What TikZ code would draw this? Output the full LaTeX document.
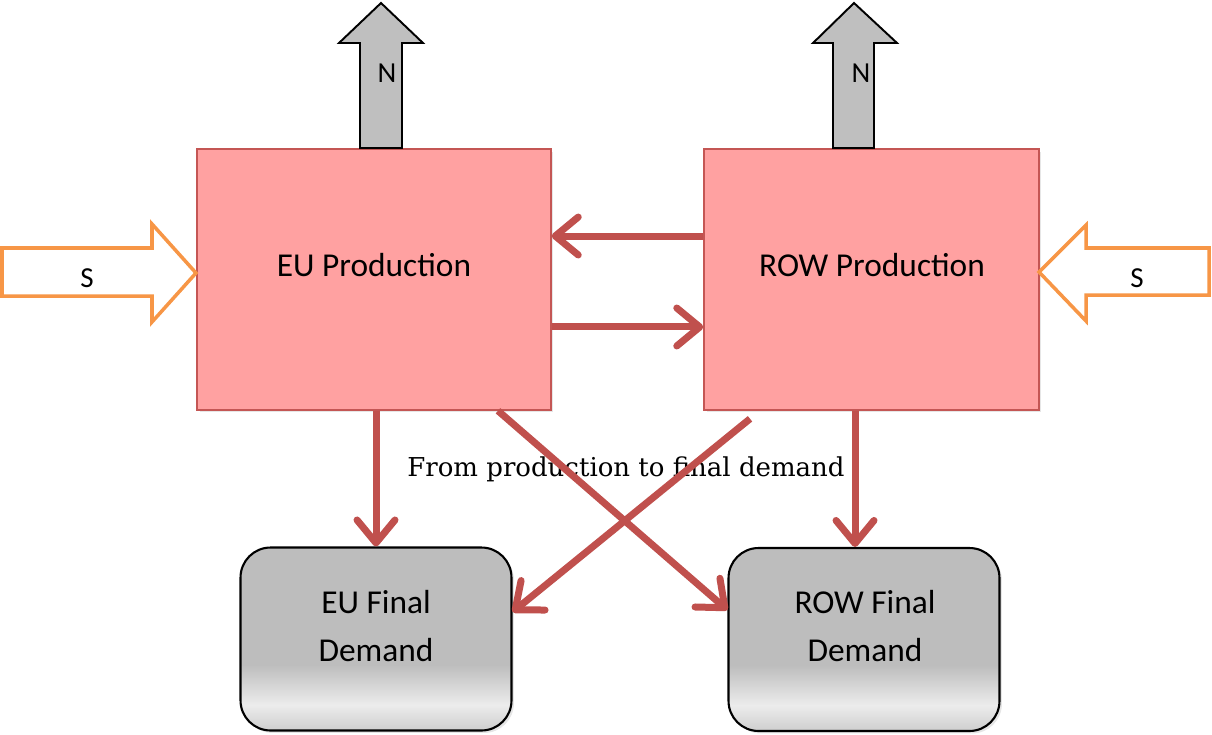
\documentclass[tikz,border=0pt]{standalone}
\usepackage{fontspec}
\setmainfont{Carlito}
\newfontfamily\demandfont{DejaVu Serif}
\usetikzlibrary{arrows.meta,shadows}
\definecolor{prodfill}{RGB}{255,161,161}
\definecolor{proddraw}{RGB}{196,86,84}
\definecolor{flowcolor}{RGB}{192,80,77}
\definecolor{supplycolor}{RGB}{247,150,70}
\definecolor{nfill}{RGB}{191,191,191}
\definecolor{fdgray}{RGB}{189,189,189}
\definecolor{fdlight}{RGB}{236,236,236}
\definecolor{fdlow}{RGB}{206,206,206}
\pgfdeclareverticalshading{fdshade}{100bp}{color(0bp)=(fdlow); color(25bp)=(fdlow); color(32bp)=(fdlight); color(43bp)=(fdgray); color(100bp)=(fdgray)}

\begin{document}
\begin{tikzpicture}[
				x=0.02cm, y=-0.02cm,
				prodbox/.style={
					rectangle,
					draw=proddraw,
					line width=0.9pt,
					fill=prodfill,
					minimum height=5.22cm,
					drop shadow={opacity=0.2, shadow xshift=0.05cm, shadow yshift=-0.05cm}
				},
				fdbox/.style={
					rectangle,
					rounded corners=0.6cm,
					draw=black,
					line width=1.2pt,
					shade,
					shading=fdshade,
					minimum width=5.42cm,
					minimum height=3.66cm,
					drop shadow={opacity=0.2, shadow xshift=0.05cm, shadow yshift=-0.05cm}
				},
				boxtext/.style={
					align=center,
					font=\fontsize{19}{27}\selectfont
				},
				tagtext/.style={
					font=\fontsize{16.5}{18}\selectfont
				},
				northarrow/.style={
					draw=black,
					line width=1.1pt,
					fill=nfill,
					line join=miter
				},
				supplyarrow/.style={
					draw=supplycolor,
					line width=2pt,
					fill=white,
					line join=miter
				},
				flow/.style={
					draw=flowcolor,
					line width=0.14cm,
					-{Straight Barb[length=0.46cm, width=0.76cm, round]}
				}
				]
				\useasboundingbox (0,0) rectangle (1212,734);
				
				\node[prodbox, minimum width=7.08cm] (euprod) at (374,279.5) {};
				\node[prodbox, minimum width=6.7cm] (rowprod) at (871.5,279.5) {};
				\node[boxtext] (euprodtext) at (374,265) {EU Production};
				\node[boxtext] (rowprodtext) at (872,265) {ROW Production};
				
				\node[fdbox] (eufd) at (376,639) {};
				\node[fdbox] (rowfd) at (864,639.5) {};
				\node[boxtext] (eufdtext) at (376,626) {EU Final\\Demand};
				\node[boxtext] (rowfdtext) at (865,626) {ROW Final\\Demand};
				
				\draw[northarrow] (360,148) -- (360,43) -- (339,43) -- (381,3) -- (423,43) -- (402,43) -- (402,148) -- cycle;
				\draw[northarrow] (833,148) -- (833,43) -- (813,43) -- (854,3) -- (897,43) -- (874,43) -- (874,148) -- cycle;
				\node[tagtext] (eun) at (387,73) {N};
				\node[tagtext] (rown) at (861,73) {N};
				
				\draw[supplyarrow] (2,248) -- (152,248) -- (152,224) -- (196,273) -- (152,322) -- (152,296) -- (2,296) -- cycle;
				\draw[supplyarrow] (1209,248) -- (1086,248) -- (1086,225) -- (1039,272) -- (1086,321) -- (1086,295) -- (1209,295) -- cycle;
				\node[tagtext] (eus) at (87,278) {S};
				\node[tagtext] (rows) at (1137,278) {S};
				
				\node[font=\demandfont\fontsize{14.8}{17}\selectfont, anchor=base] (flowtext) at (626,476) {From production to final demand};
				
				\draw[flow] ([yshift=0.87cm]rowprod.west) -- ([yshift=0.87cm]euprod.east);
				\draw[flow] ([yshift=-0.95cm]euprod.east) -- ([yshift=-0.95cm]rowprod.west);
				\draw[flow] (euprod.south -| eufd.north) -- (eufd.north);
				\draw[flow] ([xshift=-0.33cm]rowprod.south) -- ([xshift=-0.33cm]rowprod.south |- rowfd.north);
				\draw[flow] ([xshift=2.48cm]euprod.south) -- ([yshift=0.59cm]rowfd.west);
				\draw[flow] ([xshift=-2.43cm, yshift=-0.16cm]rowprod.south) -- ([yshift=0.54cm]eufd.east);
\end{tikzpicture}
\end{document}
